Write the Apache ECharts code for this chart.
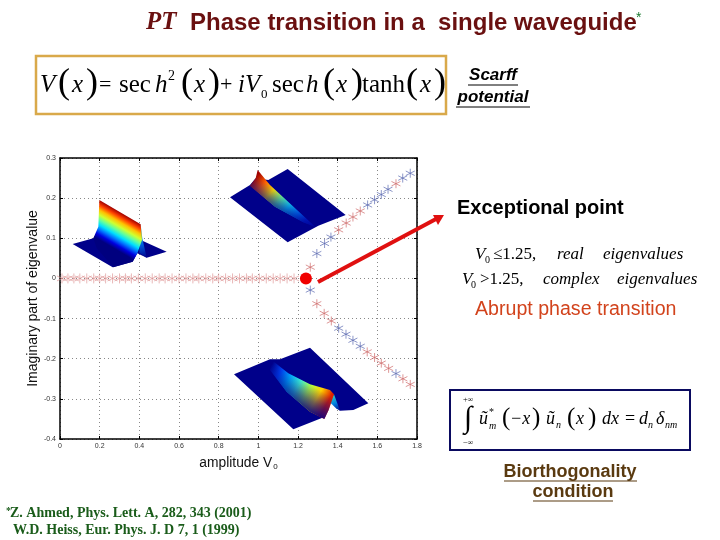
<!DOCTYPE html>
<html>
<head>
<meta charset="utf-8">
<style>html,body{margin:0;padding:0;background:#fff}#main{width:720px;height:540px}</style>
<script src="https://cdn.jsdelivr.net/npm/echarts@6/dist/echarts.min.js"></script>
</head>
<body>
<div id="main"></div>
<script>
// values: [V0, imaginary part]
var zeroBranch = [[0.01,0],[0.04,0],[0.07,0],[0.1,0],[0.135,0],[0.17,0],[0.2,0],[0.23,0],[0.265,0],[0.3,0],[0.33,0],[0.36,0],[0.395,0],[0.43,0],[0.465,0],[0.5,0],[0.53,0],[0.565,0],[0.6,0],[0.635,0],[0.67,0],[0.7,0],[0.735,0],[0.77,0],[0.8,0],[0.835,0],[0.87,0],[0.905,0],[0.94,0],[0.97,0],[1.005,0],[1.04,0],[1.075,0],[1.11,0],[1.145,0],[1.18,0]]
var upperRed = [[1.262,0.028],[1.405,0.121],[1.443,0.138],[1.477,0.153],[1.514,0.168],[1.694,0.236]]
var upperBlue = [[1.295,0.062],[1.334,0.087],[1.366,0.103],[1.551,0.183],[1.586,0.196],[1.62,0.209],[1.654,0.222],[1.728,0.25],[1.766,0.262]]
var lowerRed = [[1.295,-0.063],[1.332,-0.087],[1.368,-0.106],[1.549,-0.183],[1.586,-0.197],[1.62,-0.211],[1.657,-0.224],[1.729,-0.25],[1.766,-0.264]]
var lowerBlue = [[1.262,-0.029],[1.405,-0.124],[1.442,-0.139],[1.477,-0.154],[1.514,-0.169],[1.694,-0.237]]
var exceptionalPoint = [[1.24,0]]

var SANS = '"Liberation Sans", Arial, sans-serif'
var SERIF = '"Liberation Serif", "Times New Roman", serif'
var STAR = 'path://M0 -10V10M-8.7 -5L8.7 5M-8.7 5L8.7 -5'
var JET = ['#00007f','#0000e0','#0070ff','#00e0ff','#60ffa0','#d0ff30','#ffc000','#ff4000','#a00000']
var NAVY = '#00008a'

function txt(x, y, text, o) {
  o = o || {}
  return {
    type: 'text', x: x, y: y, z: o.z || 20,
    style: {
      text: text, fill: o.color || '#000', align: o.align || 'left', verticalAlign: 'middle',
      font: (o.style || 'normal') + ' ' + (o.weight || 'normal') + ' ' + (o.size || 14) + 'px ' + (o.family || SERIF)
    }
  }
}
function line(x1, y1, x2, y2, color, w) {
  return {type: 'line', z: 20, shape: {x1: x1, y1: y1, x2: x2, y2: y2}, style: {stroke: color, lineWidth: w}}
}
function box(x, y, w, h, color, lw) {
  return {type: 'rect', z: 5, shape: {x: x, y: y, width: w, height: h}, style: {fill: '#fff', stroke: color, lineWidth: lw}}
}
// inset surfaces: decoration, points are in 3x crop coordinates from an origin
function poly(ox, oy, pts, fill) {
  return {type: 'polygon', z: 3, shape: {points: pts.map(function (p) { return [ox + p[0] / 3, oy + p[1] / 3] })}, style: {fill: fill}}
}
function grad(ox, oy, x1, y1, x2, y2, cols) {
  return new echarts.graphic.LinearGradient(ox + x1 / 3, oy + y1 / 3, ox + x2 / 3, oy + y2 / 3,
    cols.map(function (c, i) { return {offset: i / (cols.length - 1), color: c} }), true)
}
var FADE = ['rgba(0,0,138,0)', 'rgba(0,0,138,0.55)', 'rgba(0,0,138,1)']
var insets = [
  // left: flat mode
  poly(50, 190, [[68,162],[130,145],[148,120],[272,150],[350,185],[290,203],[262,190],[248,215],[188,232]], NAVY),
  poly(50, 190, [[272,103],[277,145],[290,203],[268,188]], grad(50,190,272,120,290,203,['#40e0d0','#0060e0','#00008a'])),
  poly(50, 190, [[148,30],[272,103],[276,150],[262,190],[248,215],[190,232],[140,175],[130,145],[145,110]], grad(50,190,148,30,96,119,JET.slice().reverse())),
  // top: decaying mode
  poly(225, 165, [[15,97],[75,60],[92,40],[130,45],[188,12],[362,150],[280,182],[188,232]], NAVY),
  poly(225, 165, [[98,15],[135,60],[270,185],[235,172],[150,125],[75,62],[92,40]], grad(225,165,100,25,270,185,['#a00000','#ff6000','#ffe000','#70ff90','#10e0ff','#0080ff','#0020d0','#0000a0'])),
  poly(225, 165, [[98,15],[135,60],[270,185],[235,172],[150,125],[75,62],[92,40]], grad(225,165,135,60,95,120,FADE)),
  // bottom: decaying mode mirrored
  poly(230, 345, [[12,88],[120,43],[150,43],[240,8],[415,175],[370,195],[330,197],[300,165],[285,215],[190,253]], NAVY),
  poly(230, 345, [[312,148],[330,197],[318,190],[298,170]], grad(230,345,310,150,330,197,['#30d0c0','#0080e0','#00008a'])),
  poly(230, 345, [[125,45],[175,85],[240,118],[300,135],[312,148],[296,195],[283,222],[240,200],[170,140],[120,75]], grad(230,345,130,50,305,150,['#00008a','#0040f0','#00b0ff','#40f0d0','#b0ff40','#ffd000','#e02000'])),
  poly(230, 345, [[125,45],[175,85],[240,118],[300,135],[312,148],[296,195],[283,222],[240,200],[170,140],[120,75]], grad(230,345,215,105,175,178,FADE))
]

var chart = echarts.init(document.getElementById('main'))
var tickFont = {fontSize: 7, color: '#333', fontFamily: SANS}
var gridDots = {show: true, lineStyle: {type: [1, 3], color: '#888', width: 1}}

function starSeries(name, data, color, size, width) {
  return {
    name: name, type: 'scatter', data: data, symbol: STAR, symbolSize: size, z: 6,
    itemStyle: {color: 'transparent', borderColor: color, borderWidth: width, opacity: 1}
  }
}

chart.setOption({
  animation: false,
  backgroundColor: '#fff',
  grid: {left: 60, top: 158, width: 357, height: 281},
  xAxis: [{
    type: 'value', min: 0, max: 1.8, interval: 0.2, position: 'bottom',
    name: '{a|amplitude V}{s|0}', nameLocation: 'middle', nameGap: 16,
    nameTextStyle: {rich: {a: {fontSize: 13.8, fontFamily: SANS, color: '#111'}, s: {fontSize: 8, fontFamily: SANS, color: '#111', verticalAlign: 'bottom', padding: [8, 0, 0, 1]}}},
    axisLine: {onZero: false, lineStyle: {color: '#000', width: 1.5}},
    axisTick: {inside: true, length: 3, lineStyle: {color: '#000'}},
    axisLabel: Object.assign({margin: 4, showMinLabel: true, showMaxLabel: true}, tickFont),
    splitLine: gridDots
  }, {
    type: 'value', min: 0, max: 1.8, interval: 0.2, position: 'top',
    axisLine: {onZero: false, lineStyle: {color: '#000', width: 1.5}},
    axisTick: {inside: true, length: 3, lineStyle: {color: '#000'}},
    axisLabel: {show: false}, splitLine: {show: false}
  }],
  yAxis: [{
    type: 'value', min: -0.4, max: 0.3, interval: 0.1, position: 'left',
    name: 'Imaginary part of eigenvalue', nameLocation: 'middle', nameGap: 20,
    nameTextStyle: {fontSize: 14, fontFamily: SANS, color: '#111'},
    axisLine: {onZero: false, lineStyle: {color: '#000', width: 1.5}},
    axisTick: {inside: true, length: 3, lineStyle: {color: '#000'}},
    axisLabel: Object.assign({margin: 4, showMinLabel: true, showMaxLabel: true}, tickFont),
    splitLine: gridDots
  }, {
    type: 'value', min: -0.4, max: 0.3, interval: 0.1, position: 'right',
    axisLine: {onZero: false, lineStyle: {color: '#000', width: 1.5}},
    axisTick: {inside: true, length: 3, lineStyle: {color: '#000'}},
    axisLabel: {show: false}, splitLine: {show: false}
  }],
  series: [
    starSeries('zero', zeroBranch, '#e09a9a', 10, 0.7),
    starSeries('upper red', upperRed, '#cf6a6a', 9, 0.7),
    starSeries('upper blue', upperBlue, '#5a68b0', 9, 0.7),
    starSeries('lower red', lowerRed, '#cf6a6a', 9, 0.7),
    starSeries('lower blue', lowerBlue, '#5a68b0', 9, 0.7),
    {name: 'exceptional point', type: 'scatter', data: exceptionalPoint, symbol: 'circle', symbolSize: 12, z: 7, itemStyle: {color: '#f00000', opacity: 1}}
  ],
  graphic: {elements: [].concat(insets, [
    // title
    txt(146, 23, 'PT', {style: 'italic', weight: 'bold', size: 25, color: '#6a1010'}),
    txt(190, 23, 'Phase transition in a  single waveguide', {family: SANS, weight: 'bold', size: 24, color: '#6a1010'}),
    txt(636, 18, '*', {family: SANS, size: 14, color: '#1a7a30'}),

    // potential box
    box(36, 56, 410, 58, '#d9a94a', 2.5),
    txt(40, 85, 'V', {style: 'italic', size: 25}),
    txt(58, 84, '(', {size: 36}), txt(72, 85, 'x', {style: 'italic', size: 25}), txt(86, 84, ')', {size: 36}),
    txt(99, 85, '=', {size: 22}), txt(119, 85, 'sec', {size: 25}), txt(155, 85, 'h', {style: 'italic', size: 25}),
    txt(168, 76, '2', {size: 14}),
    txt(181, 84, '(', {size: 36}), txt(194, 85, 'x', {style: 'italic', size: 25}), txt(208, 84, ')', {size: 36}),
    txt(220, 85, '+', {size: 22}), txt(238, 85, 'i', {style: 'italic', size: 25}), txt(245, 85, 'V', {style: 'italic', size: 25}),
    txt(261, 95, '0', {size: 13}), txt(272, 85, 'sec', {size: 25}), txt(306, 85, 'h', {style: 'italic', size: 25}),
    txt(323, 84, '(', {size: 36}), txt(336, 85, 'x', {style: 'italic', size: 25}), txt(351, 84, ')', {size: 36}),
    txt(362, 85, 'tanh', {size: 25}),
    txt(406, 84, '(', {size: 36}), txt(420, 85, 'x', {style: 'italic', size: 25}), txt(434, 84, ')', {size: 36}),

    txt(493, 75, 'Scarff', {family: SANS, style: 'italic', weight: 'bold', size: 17, align: 'center'}),
    line(468, 85, 518, 85, '#000', 1),
    txt(493, 97, 'potential', {family: SANS, style: 'italic', weight: 'bold', size: 17, align: 'center'}),
    line(456, 107, 530, 107, '#000', 1),

    // arrow to the exceptional point label
    line(318, 282, 436, 219, '#e01010', 4),
    {type: 'polygon', z: 20, shape: {points: [[444, 215], [433, 215], [438, 225]]}, style: {fill: '#e01010'}},

    txt(457, 208, 'Exceptional point', {family: SANS, weight: 'bold', size: 20}),

    txt(475, 255, 'V', {style: 'italic', size: 17}), txt(485, 260, '0', {size: 10}),
    txt(493, 255, '≤1.25,', {size: 17}), txt(557, 255, 'real', {style: 'italic', size: 17}),
    txt(603, 255, 'eigenvalues', {style: 'italic', size: 17}),
    txt(462, 280, 'V', {style: 'italic', size: 17}), txt(471, 285, '0', {size: 10}),
    txt(480, 280, '>1.25,', {size: 17}), txt(543, 280, 'complex', {style: 'italic', size: 17}),
    txt(617, 280, 'eigenvalues', {style: 'italic', size: 17}),

    txt(475, 310, 'Abrupt phase transition', {family: SANS, size: 19.6, color: '#d2431c'}),

    // biorthogonality box
    box(450, 390, 240, 60, '#0a0a60', 2),
    txt(468, 400, '+∞', {size: 8, align: 'center'}),
    txt(468, 419, '∫', {size: 30, align: 'center'}),
    txt(468, 443, '−∞', {size: 8, align: 'center'}),
    txt(479, 419, 'ũ', {style: 'italic', size: 18}), txt(489, 412, '*', {size: 10}), txt(489, 426, 'm', {style: 'italic', size: 10}),
    txt(502, 418, '(', {size: 25}), txt(510, 419, '−x', {style: 'italic', size: 18}), txt(532, 418, ')', {size: 25}),
    txt(546, 419, 'ũ', {style: 'italic', size: 18}), txt(556, 425, 'n', {style: 'italic', size: 10}),
    txt(567, 418, '(', {size: 25}), txt(576, 419, 'x', {style: 'italic', size: 18}), txt(588, 418, ')', {size: 25}),
    txt(602, 419, 'dx', {style: 'italic', size: 18}), txt(625, 419, '=', {size: 18}),
    txt(639, 419, 'd', {style: 'italic', size: 18}), txt(648, 425, 'n', {style: 'italic', size: 10}),
    txt(656, 419, 'δ', {style: 'italic', size: 18}), txt(665, 425, 'nm', {style: 'italic', size: 10}),

    txt(570, 472, 'Biorthogonality', {family: SANS, weight: 'bold', size: 18, align: 'center', color: '#5a3a10'}),
    line(504, 481, 637, 481, '#5a3a10', 1.2),
    txt(573, 492, 'condition', {family: SANS, weight: 'bold', size: 18, align: 'center', color: '#5a3a10'}),
    line(533, 501, 613, 501, '#5a3a10', 1.2),

    // references
    txt(6, 511, '*', {weight: 'bold', size: 10, color: '#1a5c1a'}),
    txt(10, 513, 'Z. Ahmed, Phys. Lett. A, 282, 343 (2001)', {weight: 'bold', size: 14, color: '#1a5c1a'}),
    txt(13, 530, 'W.D. Heiss, Eur. Phys. J. D 7, 1 (1999)', {weight: 'bold', size: 14, color: '#1a5c1a'})
  ])}
})
</script>
</body>
</html>
